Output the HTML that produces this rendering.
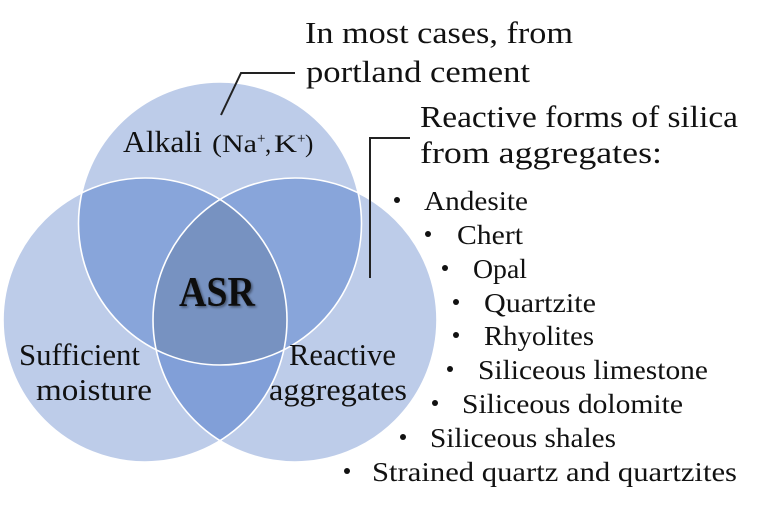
<!DOCTYPE html>
<html>
<head>
<meta charset="utf-8">
<style>
  html,body{margin:0;padding:0;background:#fff;}
  body{width:768px;height:505px;overflow:hidden;}
  svg{display:block;}
  text{font-family:"Liberation Serif", serif; fill:#111;}
</style>
</head>
<body>
<svg width="768" height="505" viewBox="0 0 768 505" xmlns="http://www.w3.org/2000/svg">
  <defs>
    <clipPath id="cT"><circle cx="220" cy="223.5" r="141.5"/></clipPath>
    <clipPath id="cL"><circle cx="145" cy="320" r="142"/></clipPath>
    <clipPath id="cR"><circle cx="295" cy="320" r="142"/></clipPath>
    <filter id="sh" x="-20%" y="-20%" width="140%" height="140%">
      <feGaussianBlur in="SourceAlpha" stdDeviation="1.2"/>
      <feOffset dx="1.5" dy="1.5" result="b"/>
      <feComponentTransfer><feFuncA type="linear" slope="0.45"/></feComponentTransfer>
      <feMerge><feMergeNode/><feMergeNode in="SourceGraphic"/></feMerge>
    </filter>
  </defs>

  <!-- single circles -->
  <circle cx="220" cy="223.5" r="141.5" fill="#bdcce9"/>
  <circle cx="145" cy="320" r="142" fill="#bdcce9"/>
  <circle cx="295" cy="320" r="142" fill="#bdcce9"/>

  <!-- pair overlaps -->
  <circle cx="295" cy="320" r="142" fill="#819fd8" clip-path="url(#cL)"/>
  <circle cx="145" cy="320" r="142" fill="#88a5da" clip-path="url(#cT)"/>
  <circle cx="295" cy="320" r="142" fill="#88a5da" clip-path="url(#cT)"/>

  <!-- triple overlap -->
  <g clip-path="url(#cT)">
    <circle cx="295" cy="320" r="142" fill="#7792c1" clip-path="url(#cL)"/>
  </g>

  <!-- white outlines -->
  <g fill="none" stroke="#ffffff" stroke-width="1.6">
    <circle cx="220" cy="223.5" r="141.5"/>
    <circle cx="145" cy="320" r="142"/>
    <circle cx="295" cy="320" r="142"/>
  </g>

  <!-- connectors -->
  <g fill="none" stroke="#222" stroke-width="2">
    <polyline points="295,73 241,73 221,115"/>
    <polyline points="410,138 370,138 370,278"/>
  </g>

  <!-- top-right annotation -->
  <text x="305" y="43" font-size="30.5" textLength="268" lengthAdjust="spacingAndGlyphs">In most cases, from</text>
  <text x="306" y="82" font-size="30.5" textLength="224" lengthAdjust="spacingAndGlyphs">portland cement</text>

  <!-- Alkali label -->
  <text x="123" y="152" font-size="30.5" textLength="79" lengthAdjust="spacingAndGlyphs">Alkali</text>
  <text x="212" y="152" font-size="25" textLength="45" lengthAdjust="spacingAndGlyphs">(Na</text>
  <text x="257" y="143" font-size="15">+</text>
  <text x="265" y="152" font-size="25">,</text>
  <text x="274" y="152" font-size="25" textLength="23" lengthAdjust="spacingAndGlyphs">K</text>
  <text x="297" y="143" font-size="15">+</text>
  <text x="305" y="152" font-size="25">)</text>

  <!-- ASR -->
  <text x="179" y="306" font-size="42" font-weight="bold" textLength="76" lengthAdjust="spacingAndGlyphs" filter="url(#sh)">ASR</text>

  <!-- Sufficient moisture -->
  <text x="19" y="365" font-size="30.5" textLength="121" lengthAdjust="spacingAndGlyphs">Sufficient</text>
  <text x="36" y="400" font-size="30.5" textLength="116" lengthAdjust="spacingAndGlyphs">moisture</text>

  <!-- Reactive aggregates -->
  <text x="289" y="365" font-size="30.5" textLength="107" lengthAdjust="spacingAndGlyphs">Reactive</text>
  <text x="269" y="400" font-size="30.5" textLength="138" lengthAdjust="spacingAndGlyphs">aggregates</text>

  <!-- Reactive forms heading -->
  <text x="420" y="127" font-size="30.5" textLength="318" lengthAdjust="spacingAndGlyphs">Reactive forms of silica</text>
  <text x="420" y="163" font-size="30.5" textLength="242" lengthAdjust="spacingAndGlyphs">from aggregates:</text>

  <!-- bullets -->
  <g fill="#111">
    <circle cx="397" cy="200" r="3"/>
    <circle cx="428" cy="234" r="3"/>
    <circle cx="445" cy="268" r="3"/>
    <circle cx="456" cy="302" r="3"/>
    <circle cx="456" cy="335" r="3"/>
    <circle cx="450" cy="369" r="3"/>
    <circle cx="435" cy="403" r="3"/>
    <circle cx="403" cy="437" r="3"/>
    <circle cx="347" cy="471" r="3"/>
  </g>

  <!-- list items -->
  <text x="424" y="210" font-size="27" textLength="104" lengthAdjust="spacingAndGlyphs">Andesite</text>
  <text x="457" y="244" font-size="27" textLength="66" lengthAdjust="spacingAndGlyphs">Chert</text>
  <text x="473" y="278" font-size="27" textLength="54" lengthAdjust="spacingAndGlyphs">Opal</text>
  <text x="484" y="312" font-size="27" textLength="112" lengthAdjust="spacingAndGlyphs">Quartzite</text>
  <text x="484" y="345" font-size="27" textLength="110" lengthAdjust="spacingAndGlyphs">Rhyolites</text>
  <text x="478" y="379" font-size="27" textLength="230" lengthAdjust="spacingAndGlyphs">Siliceous limestone</text>
  <text x="462" y="413" font-size="27" textLength="221" lengthAdjust="spacingAndGlyphs">Siliceous dolomite</text>
  <text x="430" y="447" font-size="27" textLength="186" lengthAdjust="spacingAndGlyphs">Siliceous shales</text>
  <text x="372" y="481" font-size="27" textLength="365" lengthAdjust="spacingAndGlyphs">Strained quartz and quartzites</text>
</svg>
</body>
</html>
